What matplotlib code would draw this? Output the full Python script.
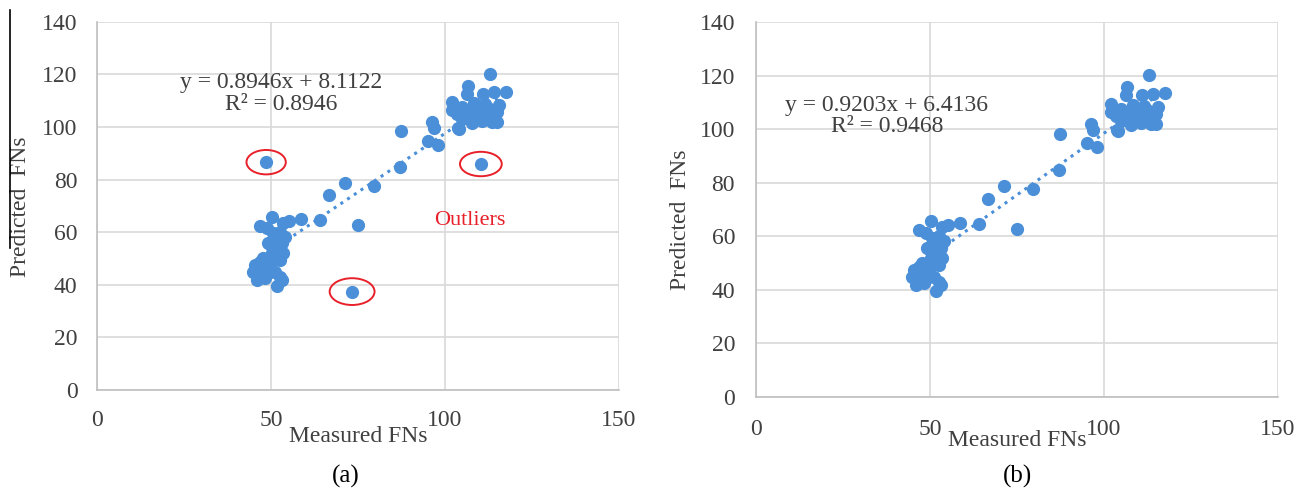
import numpy as np
import matplotlib.pyplot as plt
from matplotlib.patches import Ellipse
from matplotlib.lines import Line2D

plt.rcParams['font.family'] = ['Liberation Serif', 'DejaVu Serif']

# measured / predicted FNs shared by both panels
measured = [50.2, 46.8, 53.4, 55.3, 58.5, 64.1, 48.8, 50.7, 52.6, 54.0,
            49.2, 51.6, 53.1, 52.1, 53.5, 50.2, 50.7, 52.6, 46.8, 45.4,
            48.8, 44.9, 46.8, 49.7, 45.9, 48.3, 51.1, 52.6, 53.1, 51.6,
            47.8, 50.2,
            66.7, 71.3, 79.6, 75.1, 87.0, 87.3, 95.0, 97.9, 96.3, 96.8, 104.1,
            112.9, 117.5, 106.7, 106.2, 110.8, 114.1, 101.9, 102.1, 108.3, 111.5,
            115.5, 114.9, 103.5, 105.7, 108.1, 107.0, 109.6, 112.0, 113.9, 115.0,
            113.4, 110.5, 107.7, 104.8, 103.8, 104.8, 109.1, 112.4]
predicted = [65.8, 62.3, 63.5, 64.3, 65.0, 64.6, 61.4, 59.5, 60.1, 58.2,
             55.7, 56.3, 55.7, 53.1, 51.9, 51.9, 49.3, 49.3, 48.7, 47.4,
             46.8, 44.9, 44.3, 44.9, 41.7, 42.4, 44.9, 43.0, 41.7, 39.4,
             50.0, 54.4,
             74.1, 78.8, 77.6, 62.6, 84.9, 98.3, 94.8, 93.2, 101.8, 99.8, 99.4,
             120.2, 113.4, 115.6, 112.6, 112.6, 113.2, 109.4, 106.5, 109.0, 108.8,
             108.4, 105.8, 104.9, 105.4, 106.5, 103.3, 103.9, 104.6, 103.3, 102.0,
             102.0, 102.3, 101.4, 102.9, 99.5, 107.7, 107.7, 107.1]

# the three outliers only appear in panel (a)
outlier_x = [48.6, 110.3, 73.3]
outlier_y = [86.6, 85.9, 37.3]

# trendline coefficients (slope, intercept) and R^2
fit_a = (0.8946, 8.1122, 0.8946)
fit_b = (0.9203, 6.4136, 0.9468)

blue = '#4a8fd8'
text_c = '#404040'
fs = 17

fig = plt.figure(figsize=(13.09, 4.92), dpi=100)
ax_a = fig.add_axes([0.0741, 0.2083, 0.3988, 0.7470])
ax_b = fig.add_axes([0.5775, 0.1931, 0.3988, 0.7622])


def panel(ax, xs, ys, fit, eq_pos, xpad, ypad, xlab_y, ylab_xy):
    ax.set_xlim(0, 150)
    ax.set_ylim(0, 140)
    ax.set_xticks([0, 50, 100, 150])
    ax.set_yticks(np.arange(0, 141, 20))
    ax.grid(True, color='#d9d9d9', lw=1.2)
    ax.set_axisbelow(True)
    for s in ['top', 'right']:
        ax.spines[s].set_visible(False)
    for s in ['left', 'bottom']:
        ax.spines[s].set_color('#bfbfbf')
        ax.spines[s].set_linewidth(1.2)
    ax.tick_params(length=0, labelsize=fs, colors=text_c)
    ax.tick_params(axis='x', pad=xpad)
    ax.tick_params(axis='y', pad=ypad)

    ax.plot(xs, ys, 'o', color=blue, ms=8.5, mec=blue, zorder=3)

    k, b, r2 = fit
    lx = np.array([min(xs), max(xs)])
    ax.plot(lx, k * lx + b, ':', color=blue, lw=2.2, zorder=2)
    ax.text(eq_pos[0], eq_pos[1],
            'y = %.4fx + %.4f\nR\u00b2 = %.4f' % (k, b, r2),
            ha='center', va='center', multialignment='center',
            fontsize=fs, color=text_c, linespacing=1.05)

    ax.set_xlabel('Measured FNs', fontsize=fs, color=text_c)
    ax.xaxis.set_label_coords(0.5, xlab_y)
    ax.xaxis.label.set_va('center')
    ax.set_ylabel('Predicted  FNs', fontsize=fs, color=text_c)
    ax.yaxis.set_label_coords(*ylab_xy)
    ax.yaxis.label.set_va('center')


panel(ax_a, measured + outlier_x, predicted + outlier_y, fit_a,
      (52.9, 112.8), 15, 14, -0.129, (-0.146, 0.497))
panel(ax_b, measured, predicted, fit_b,
      (37.6, 104.9), 16, 15, -0.115, (-0.145, 0.472))

# circle the outliers in panel (a)
for (ox, oy), (w, h) in zip(zip(outlier_x, outlier_y),
                            [(11.3, 9.3), (12.0, 9.3), (12.9, 10.2)]):
    ax_a.add_patch(Ellipse((ox, oy), w, h, fill=False,
                           ec='#e8202a', lw=1.4, zorder=4))
ax_a.text(107.2, 64.3, 'Outliers', color='#e8202a', fontsize=fs - 1,
          ha='center', va='center')

fig.text(346 / 1309, 1 - 476 / 492, '(a)', fontsize=fs + 1,
         ha='center', va='center')
fig.text(1018 / 1309, 1 - 476 / 492, '(b)', fontsize=fs + 1,
         ha='center', va='center')

fig.add_artist(Line2D([10 / 1309, 10 / 1309], [1 - 10 / 492, 1 - 248 / 492],
                      color='black', lw=1.2))

fig.savefig('out.png', dpi=100)
